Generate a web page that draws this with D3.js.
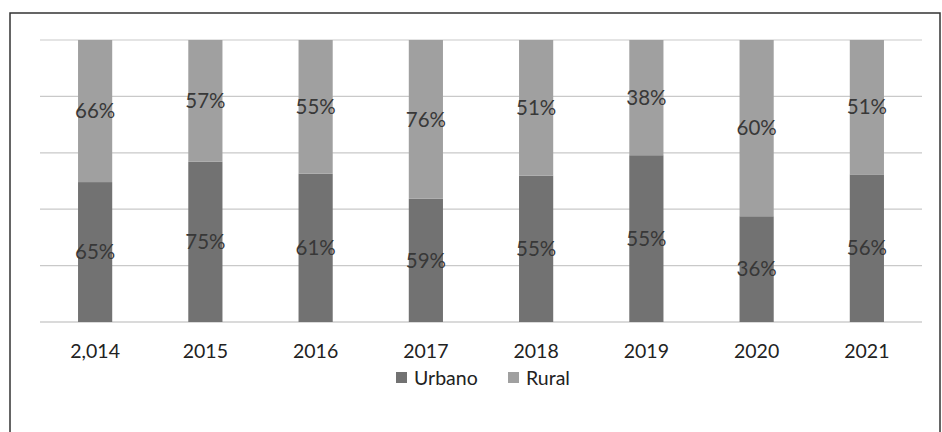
<!DOCTYPE html>
<html>
<head>
<meta charset="utf-8">
<script src="https://cdn.jsdelivr.net/npm/d3@7"></script>
<style>
	body { margin: 0; background: #fff; }
	svg { display: block; font-family: Lato, 'Open Sans', sans-serif; }
</style>
</head>
<body>
<svg id="chart" width="942" height="432"></svg>
<script>
const years = ['2,014', '2015', '2016', '2017', '2018', '2019', '2020', '2021']
const urbano = [65, 75, 61, 59, 55, 55, 36, 56]
const rural = [66, 57, 55, 76, 51, 38, 60, 51]
const seriesNames = ['Urbano', 'Rural']
const colors = ['#727272', '#a0a0a0']

const svg = d3.select('#chart')
const margin = { top: 40, right: 20, bottom: 110, left: 40 }
const width = 942 - margin.left - margin.right
const height = 432 - margin.top - margin.bottom

// scan frame
svg.append('rect')
	.attr('x', 10).attr('y', 13).attr('width', 930).attr('height', 430)
	.attr('fill', 'none').attr('stroke', '#333').attr('stroke-width', 1.5)

const g = svg.append('g').attr('transform', `translate(${margin.left},${margin.top})`)

const x = d3.scaleBand().domain(years).range([0, width]).paddingInner(0.69).paddingOuter(0.345)
const y = d3.scaleLinear().domain([0, 1]).range([height, 0])

g.append('g')
	.selectAll('line')
	.data(y.ticks(5))
	.join('line')
	.attr('x1', 0).attr('x2', width)
	.attr('y1', d => y(d)).attr('y2', d => y(d))
	.attr('stroke', d => d === 0 ? '#b5b5b5' : '#c9c9c9')
	.attr('stroke-width', 1.2)

const rows = years.map((yr, i) => ({ year: yr, Urbano: urbano[i], Rural: rural[i] }))
const stack = d3.stack().keys(seriesNames).offset(d3.stackOffsetExpand)
const layers = stack(rows)

const layer = g.selectAll('g.layer')
	.data(layers)
	.join('g')
	.attr('class', 'layer')
	.attr('fill', (_, i) => colors[i])

layer.selectAll('rect')
	.data(d => d)
	.join('rect')
	.attr('x', d => x(d.data.year))
	.attr('width', x.bandwidth())
	.attr('y', d => y(d[1]))
	.attr('height', d => y(d[0]) - y(d[1]))

layers.forEach((l) => {
	g.append('g').selectAll('text')
		.data(l)
		.join('text')
		.attr('x', d => x(d.data.year) + x.bandwidth() / 2)
		.attr('y', d => y((d[0] + d[1]) / 2))
		.attr('dy', '0.35em')
		.attr('text-anchor', 'middle')
		.attr('font-size', 20.5)
		.attr('fill', '#383838')
		.text(d => d.data[l.key] + '%')
})

const xAxis = g.append('g')
	.attr('transform', `translate(0,${height})`)
	.call(d3.axisBottom(x).tickSize(0).tickPadding(22))
xAxis.select('.domain').remove()
xAxis.selectAll('text').attr('font-size', 19.5).attr('fill', '#222').attr('font-family', 'Lato, sans-serif')

const legend = svg.append('g').attr('transform', 'translate(396,369)')
const legendX = d3.scalePoint().domain(seriesNames).range([0, 112])
const items = legend.selectAll('g')
	.data(seriesNames)
	.join('g')
	.attr('transform', d => `translate(${legendX(d)},0)`)
items.append('rect')
	.attr('width', 11).attr('height', 11).attr('y', 3)
	.attr('fill', (_, i) => colors[i])
items.append('text')
	.attr('x', 18).attr('y', 9).attr('dy', '0.35em')
	.attr('font-size', 19.5).attr('fill', '#222')
	.text(d => d)
</script>
</body>
</html>
